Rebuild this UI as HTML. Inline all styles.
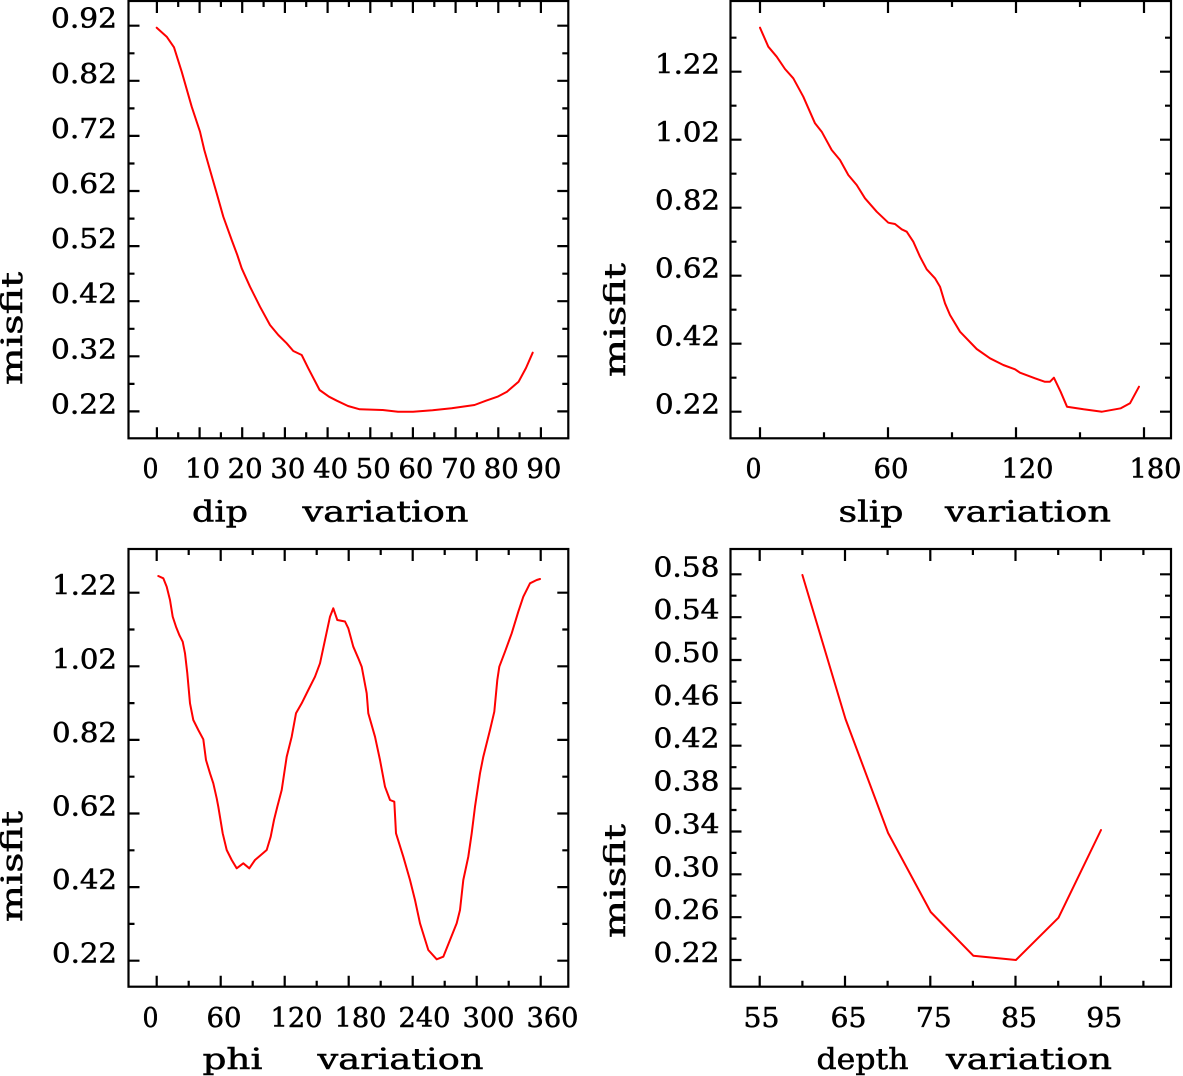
<!DOCTYPE html>
<html><head><meta charset="utf-8"><style>
html,body{margin:0;padding:0;background:#fff;}
svg{display:block;}
text{font-family:"DejaVu Serif","Liberation Serif",serif;font-weight:normal;fill:#000;stroke:#000;stroke-width:0.5px;}
.t{font-size:27px;}
.l{font-size:29px;}
</style></head><body>
<svg width="1183" height="1076" viewBox="0 0 1183 1076" xmlns="http://www.w3.org/2000/svg">
<g fill="none" stroke="#000" stroke-width="2.2">
<rect x="128.5" y="1" width="439.8" height="437.3"/>
<rect x="730.5" y="1" width="440.5" height="437.3"/>
<rect x="128.5" y="549" width="439.8" height="437.7"/>
<rect x="730.5" y="549" width="440.5" height="437.7"/>
<path d="M156.9 438.3v-11M156.9 1v12M178.2 438.3v-6M178.2 1v6M199.6 438.3v-11M199.6 1v12M220.9 438.3v-6M220.9 1v6M242.2 438.3v-11M242.2 1v12M263.6 438.3v-6M263.6 1v6M284.9 438.3v-11M284.9 1v12M306.2 438.3v-6M306.2 1v6M327.6 438.3v-11M327.6 1v12M348.9 438.3v-6M348.9 1v6M370.3 438.3v-11M370.3 1v12M391.6 438.3v-6M391.6 1v6M412.9 438.3v-11M412.9 1v12M434.3 438.3v-6M434.3 1v6M455.6 438.3v-11M455.6 1v12M476.9 438.3v-6M476.9 1v6M498.3 438.3v-11M498.3 1v12M519.6 438.3v-6M519.6 1v6M540.9 438.3v-11M540.9 1v12"/>
<path d="M128.5 25.7h11M568.3 25.7h-11M128.5 53.3h6M568.3 53.3h-6M128.5 80.8h11M568.3 80.8h-11M128.5 108.4h6M568.3 108.4h-6M128.5 135.9h11M568.3 135.9h-11M128.5 163.5h6M568.3 163.5h-6M128.5 191h11M568.3 191h-11M128.5 218.6h6M568.3 218.6h-6M128.5 246.1h11M568.3 246.1h-11M128.5 273.7h6M568.3 273.7h-6M128.5 301.2h11M568.3 301.2h-11M128.5 328.8h6M568.3 328.8h-6M128.5 356.3h11M568.3 356.3h-11M128.5 383.9h6M568.3 383.9h-6M128.5 411.4h11M568.3 411.4h-11"/>
<path d="M760 438.3v-11M760 1v12M824 438.3v-6M824 1v6M888 438.3v-11M888 1v12M952 438.3v-6M952 1v6M1016 438.3v-11M1016 1v12M1080 438.3v-6M1080 1v6M1144 438.3v-11M1144 1v12"/>
<path d="M730.5 37.7h6M1171 37.7h-6M730.5 71.7h11M1171 71.7h-11M730.5 105.7h6M1171 105.7h-6M730.5 139.7h11M1171 139.7h-11M730.5 173.7h6M1171 173.7h-6M730.5 207.7h11M1171 207.7h-11M730.5 241.7h6M1171 241.7h-6M730.5 275.7h11M1171 275.7h-11M730.5 309.7h6M1171 309.7h-6M730.5 343.7h11M1171 343.7h-11M730.5 377.7h6M1171 377.7h-6M730.5 411.7h11M1171 411.7h-11"/>
<path d="M156.7 986.7v-11M156.7 549v12M188.7 986.7v-6M188.7 549v6M220.7 986.7v-11M220.7 549v12M252.7 986.7v-6M252.7 549v6M284.7 986.7v-11M284.7 549v12M316.7 986.7v-6M316.7 549v6M348.7 986.7v-11M348.7 549v12M380.7 986.7v-6M380.7 549v6M412.7 986.7v-11M412.7 549v12M444.7 986.7v-6M444.7 549v6M476.7 986.7v-11M476.7 549v12M508.7 986.7v-6M508.7 549v6M540.7 986.7v-11M540.7 549v12"/>
<path d="M128.5 592.7h11M568.3 592.7h-11M128.5 629.5h6M568.3 629.5h-6M128.5 666.3h11M568.3 666.3h-11M128.5 703.1h6M568.3 703.1h-6M128.5 739.9h11M568.3 739.9h-11M128.5 776.7h6M568.3 776.7h-6M128.5 813.5h11M568.3 813.5h-11M128.5 850.3h6M568.3 850.3h-6M128.5 887.1h11M568.3 887.1h-11M128.5 923.9h6M568.3 923.9h-6M128.5 960.7h11M568.3 960.7h-11"/>
<path d="M759.7 986.7v-11M759.7 549v12M802.4 986.7v-6M802.4 549v6M845 986.7v-11M845 549v12M887.6 986.7v-6M887.6 549v6M930.3 986.7v-11M930.3 549v12M972.9 986.7v-6M972.9 549v6M1015.5 986.7v-11M1015.5 549v12M1058.2 986.7v-6M1058.2 549v6M1100.8 986.7v-11M1100.8 549v12M1143.4 986.7v-6M1143.4 549v6"/>
<path d="M730.5 574.3h11M1171 574.3h-11M730.5 595.7h6M1171 595.7h-6M730.5 617.2h11M1171 617.2h-11M730.5 638.6h6M1171 638.6h-6M730.5 660h11M1171 660h-11M730.5 681.5h6M1171 681.5h-6M730.5 702.9h11M1171 702.9h-11M730.5 724.3h6M1171 724.3h-6M730.5 745.7h11M1171 745.7h-11M730.5 767.2h6M1171 767.2h-6M730.5 788.6h11M1171 788.6h-11M730.5 810h6M1171 810h-6M730.5 831.5h11M1171 831.5h-11M730.5 852.9h6M1171 852.9h-6M730.5 874.3h11M1171 874.3h-11M730.5 895.7h6M1171 895.7h-6M730.5 917.2h11M1171 917.2h-11M730.5 938.6h6M1171 938.6h-6M730.5 960h11M1171 960h-11"/>
</g>

<g fill="none" stroke="#ff0000" stroke-width="2" stroke-linejoin="round" stroke-linecap="round">
<polyline points="156.7,27.7 166.7,36.7 174,47.3 181.7,71.7 191.7,106.7 200,131.7 204.3,150 210,170 216.7,193.3 223.3,216.7 231.7,240 237.3,255 241.7,268.3 250,286.7 260,306.7 270,325 278.3,335 286.7,343.3 293.3,351 301.7,355 308.3,368.3 319.6,390 329,396.7 336.8,400.7 348,406 359.7,409.3 382.7,410 398,411.7 413,411.7 432.5,410.3 451.6,408.3 474.5,405 486,400.7 497.5,396.7 507,391.7 518.6,381.7 526,368 532.7,352.7"/>
<polyline points="760,27.7 768.3,46.7 776.7,56.7 785,69 793.3,78.3 803.3,96.7 815,123.3 821.7,131.7 831.7,150 840,160 848.3,175 856.7,185 865,198.3 876.7,211.7 888.3,222.7 895,224 901.7,229.3 906.7,231.7 913.3,241.7 920,256.7 926.7,269.3 935,278.3 940,286.7 945,303.3 950,315 960,331.7 976.7,349 990,358.3 1003.3,365 1015,369.3 1020,372.7 1035,378.3 1044.6,381.7 1050,381.7 1053.9,377.7 1060.6,391.7 1067,406.7 1083.6,409.3 1102,411.7 1120.8,408.3 1130,403.3 1139,386.7"/>
<polyline points="158.3,576 163.3,578.3 166.7,586.7 170,600 172.7,616.7 176,626.7 179.3,635 182.7,641.7 185,653.3 187.3,673.3 190,703.3 193.3,720 198.3,730 203.3,739.3 206,760 210,773.3 213.3,783.3 216.7,798.3 218.3,806.7 222.7,833.3 226.7,850 231.7,860 236.7,868.3 243.3,863.3 249.3,868.3 255,860 260,855.7 266.7,850 270.7,836.7 274,820 277.3,806.7 281.7,790 286.7,756.7 291.7,736.7 296,713.3 301.7,703.3 308.3,690 315,676.7 320,663.3 325,640 330,616.7 333.3,608.3 337.3,620 345,621.5 348.3,628.3 353.3,646.7 358.3,658.3 361.7,666.7 366.7,693.3 368.3,713.3 375,736.7 380,760 385,786.7 390,800 394.3,801.7 396,833.3 403.3,856.7 410,880 415,900 420,923.3 428.3,950 436.7,959.3 443.3,956.7 450,940 456.7,923.3 460,910 463.3,880 468.3,856.7 471.7,833.3 475,806.7 480,773.3 483.3,756.7 490,730 494.3,711.7 497.3,680 499.3,666.7 505,651.7 511.7,633.3 518.3,611.7 523.3,596.7 530,583.3 536.7,580 540,579"/>
<polyline points="802.4,575 845.5,719 888.1,833 930.7,912 973.3,955.7 1015.9,960 1058.5,917.7 1101,830"/>
</g>

<g class="t">
<text x="51" y="27.7" textLength="66" lengthAdjust="spacingAndGlyphs">0.92</text>
<text x="51" y="82.8" textLength="66" lengthAdjust="spacingAndGlyphs">0.82</text>
<text x="51" y="137.9" textLength="66" lengthAdjust="spacingAndGlyphs">0.72</text>
<text x="51" y="193" textLength="66" lengthAdjust="spacingAndGlyphs">0.62</text>
<text x="51" y="248.1" textLength="66" lengthAdjust="spacingAndGlyphs">0.52</text>
<text x="51" y="303.2" textLength="66" lengthAdjust="spacingAndGlyphs">0.42</text>
<text x="51" y="358.3" textLength="66" lengthAdjust="spacingAndGlyphs">0.32</text>
<text x="51" y="413.4" textLength="66" lengthAdjust="spacingAndGlyphs">0.22</text>
<text x="142.5" y="478" textLength="16" lengthAdjust="spacingAndGlyphs">0</text>
<text x="185" y="478" textLength="35" lengthAdjust="spacingAndGlyphs">10</text>
<text x="227.7" y="478" textLength="35" lengthAdjust="spacingAndGlyphs">20</text>
<text x="270.4" y="478" textLength="35" lengthAdjust="spacingAndGlyphs">30</text>
<text x="313.1" y="478" textLength="35" lengthAdjust="spacingAndGlyphs">40</text>
<text x="355.8" y="478" textLength="35" lengthAdjust="spacingAndGlyphs">50</text>
<text x="398.4" y="478" textLength="35" lengthAdjust="spacingAndGlyphs">60</text>
<text x="441.1" y="478" textLength="35" lengthAdjust="spacingAndGlyphs">70</text>
<text x="483.8" y="478" textLength="35" lengthAdjust="spacingAndGlyphs">80</text>
<text x="526.4" y="478" textLength="35" lengthAdjust="spacingAndGlyphs">90</text>
</g>
<g class="t">
<text x="655" y="73.7" textLength="65" lengthAdjust="spacingAndGlyphs">1.22</text>
<text x="655" y="141.7" textLength="65" lengthAdjust="spacingAndGlyphs">1.02</text>
<text x="655" y="209.7" textLength="65" lengthAdjust="spacingAndGlyphs">0.82</text>
<text x="655" y="277.7" textLength="65" lengthAdjust="spacingAndGlyphs">0.62</text>
<text x="655" y="345.7" textLength="65" lengthAdjust="spacingAndGlyphs">0.42</text>
<text x="655" y="413.7" textLength="65" lengthAdjust="spacingAndGlyphs">0.22</text>
<text x="745.5" y="478" textLength="16" lengthAdjust="spacingAndGlyphs">0</text>
<text x="873.5" y="478" textLength="35" lengthAdjust="spacingAndGlyphs">60</text>
<text x="1001.5" y="478" textLength="52" lengthAdjust="spacingAndGlyphs">120</text>
<text x="1129.5" y="478" textLength="52" lengthAdjust="spacingAndGlyphs">180</text>
</g>
<g class="t">
<text x="52" y="594.7" textLength="65" lengthAdjust="spacingAndGlyphs">1.22</text>
<text x="52" y="668.3" textLength="65" lengthAdjust="spacingAndGlyphs">1.02</text>
<text x="52" y="741.9" textLength="65" lengthAdjust="spacingAndGlyphs">0.82</text>
<text x="52" y="815.5" textLength="65" lengthAdjust="spacingAndGlyphs">0.62</text>
<text x="52" y="889.1" textLength="65" lengthAdjust="spacingAndGlyphs">0.42</text>
<text x="52" y="962.7" textLength="65" lengthAdjust="spacingAndGlyphs">0.22</text>
<text x="142.5" y="1027" textLength="16" lengthAdjust="spacingAndGlyphs">0</text>
<text x="206.5" y="1027" textLength="35" lengthAdjust="spacingAndGlyphs">60</text>
<text x="270.5" y="1027" textLength="52" lengthAdjust="spacingAndGlyphs">120</text>
<text x="334.5" y="1027" textLength="52" lengthAdjust="spacingAndGlyphs">180</text>
<text x="398.5" y="1027" textLength="52" lengthAdjust="spacingAndGlyphs">240</text>
<text x="462.5" y="1027" textLength="52" lengthAdjust="spacingAndGlyphs">300</text>
<text x="526.5" y="1027" textLength="52" lengthAdjust="spacingAndGlyphs">360</text>
</g>
<g class="t">
<text x="653.5" y="576.3" textLength="66" lengthAdjust="spacingAndGlyphs">0.58</text>
<text x="653.5" y="619.2" textLength="66" lengthAdjust="spacingAndGlyphs">0.54</text>
<text x="653.5" y="662" textLength="66" lengthAdjust="spacingAndGlyphs">0.50</text>
<text x="653.5" y="704.9" textLength="66" lengthAdjust="spacingAndGlyphs">0.46</text>
<text x="653.5" y="747.7" textLength="66" lengthAdjust="spacingAndGlyphs">0.42</text>
<text x="653.5" y="790.6" textLength="66" lengthAdjust="spacingAndGlyphs">0.38</text>
<text x="653.5" y="833.5" textLength="66" lengthAdjust="spacingAndGlyphs">0.34</text>
<text x="653.5" y="876.3" textLength="66" lengthAdjust="spacingAndGlyphs">0.30</text>
<text x="653.5" y="919.2" textLength="66" lengthAdjust="spacingAndGlyphs">0.26</text>
<text x="653.5" y="962" textLength="66" lengthAdjust="spacingAndGlyphs">0.22</text>
<text x="743.5" y="1027" textLength="36" lengthAdjust="spacingAndGlyphs">55</text>
<text x="830.5" y="1027" textLength="36" lengthAdjust="spacingAndGlyphs">65</text>
<text x="915.8" y="1027" textLength="36" lengthAdjust="spacingAndGlyphs">75</text>
<text x="1001" y="1027" textLength="36" lengthAdjust="spacingAndGlyphs">85</text>
<text x="1086.3" y="1027" textLength="36" lengthAdjust="spacingAndGlyphs">95</text>
</g>

<g class="l">
<text x="192" y="521.5" textLength="56" lengthAdjust="spacingAndGlyphs">dip</text>
<text x="302.5" y="521.5" textLength="166" lengthAdjust="spacingAndGlyphs">variation</text>
<text x="838.5" y="521.5" textLength="65" lengthAdjust="spacingAndGlyphs">slip</text>
<text x="945" y="521.5" textLength="166" lengthAdjust="spacingAndGlyphs">variation</text>
<text x="202.5" y="1069" textLength="60" lengthAdjust="spacingAndGlyphs">phi</text>
<text x="317.5" y="1069" textLength="166" lengthAdjust="spacingAndGlyphs">variation</text>
<text x="816.5" y="1069" textLength="92" lengthAdjust="spacingAndGlyphs">depth</text>
<text x="946" y="1069" textLength="166" lengthAdjust="spacingAndGlyphs">variation</text>
<text transform="translate(22,385) rotate(-90)" textLength="113" lengthAdjust="spacingAndGlyphs">misfit</text>
<text transform="translate(625,377) rotate(-90)" textLength="114" lengthAdjust="spacingAndGlyphs">misfit</text>
<text transform="translate(22,922) rotate(-90)" textLength="111" lengthAdjust="spacingAndGlyphs">misfit</text>
<text transform="translate(625,938) rotate(-90)" textLength="114" lengthAdjust="spacingAndGlyphs">misfit</text>
</g>
</svg>
</body></html>
